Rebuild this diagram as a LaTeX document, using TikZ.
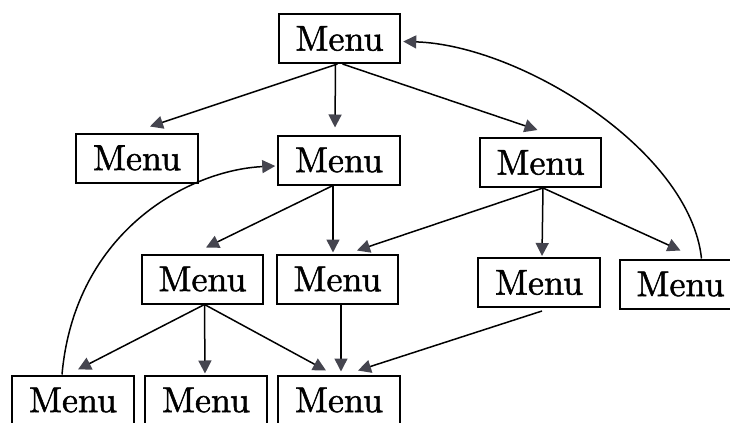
\documentclass[tikz,border=0pt]{standalone}
\usetikzlibrary{arrows.meta,calc}
\definecolor{tipgray}{HTML}{45454F}
% slightly heavier serif face for the labels
\font\menufont="[lmroman10-regular.otf]:embolden=1.4" at 18pt
\begin{document}
\begin{tikzpicture}[x=0.5pt,y=-0.5pt,
  menubox/.style={draw=black,line width=1pt,fill=white,
    minimum width=60.75pt,minimum height=24.5pt,inner sep=0pt,
    font=\menufont},
  link/.style={line width=0.75pt,
    -{Triangle[length=6.5pt,width=6.5pt,color=tipgray]}}]
\useasboundingbox (0,0) rectangle (730,423);

% menu boxes, top to bottom
\node[menubox] (A) at (339.5,38.5) {Menu};
\node[menubox] (B) at (137,158)    {Menu};
\node[menubox] (C) at (339,160)    {Menu};
\node[menubox] (D) at (540.5,162.5) {Menu};
\node[menubox] (E) at (202.5,279)  {Menu};
\node[menubox] (F) at (337.5,279)  {Menu};
\node[menubox] (G) at (539,282.5)  {Menu};
\node[menubox] (H) at (680.5,284)  {Menu};
\node[menubox] (I) at (73,400)     {Menu};
\node[menubox] (J) at (206,400)    {Menu};
\node[menubox] (K) at (339,400)    {Menu};

% first level
\draw[link] ($(A.south)+(-2,0)$) -- ($(B.north)+(13,-6)$);
\draw[link] ($(A.south)+(-4,0)$) -- ($(C.north)+(-4,-7)$);
\draw[link] ($(A.south)+(3,0)$)  -- ($(D.north)+(-3,-7)$);

% second level
\draw[link] ($(C.south)+(-6,0)$) -- ($(E.north)+(3.5,-6)$);
\draw[link] ($(C.south)+(-6,0)$) -- ($(F.north)+(-4.5,-1)$);
\draw[link] ($(D.south)+(2.5,0)$) -- ($(F.north)+(19.5,-3)$);
\draw[link] ($(D.south)+(2.5,0)$) -- ($(G.north)+(3,-1)$);
\draw[link] ($(D.south)+(2.5,0)$) -- ($(H.north)+(0,-8)$);

% third level
\draw[link] ($(E.south)+(2,0)$) -- ($(I.north)+(5,-5)$);
\draw[link] ($(E.south)+(2,0)$) -- ($(J.north)+(-1,-1)$);
\draw[link] ($(E.south)+(2,0)$) -- ($(K.north)+(-13,-4)$);
\draw[link] ($(F.south)+(3.5,0)$) -- ($(K.north)+(2,-3)$);
\draw[link] ($(G.south)+(3,3)$) -- ($(K.north)+(19,-4)$);

% return links
\draw[link] ($(H.north)+(21,0)$) .. controls (690,150) and (520,45) .. ($(A.east)+(2,3)$);
\draw[link] ($(I.north)+(-11,0)$) .. controls (75,230) and (190,170) .. ($(C.west)+(-2,6)$);
\end{tikzpicture}
\end{document}
